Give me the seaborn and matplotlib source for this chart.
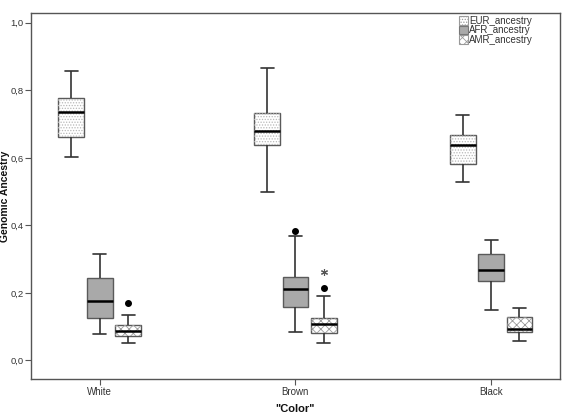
import numpy as np
import pandas as pd
import matplotlib
matplotlib.use("Agg")
import matplotlib.pyplot as plt
import seaborn as sns
from matplotlib.patches import PathPatch, Patch

# ---------------- data ----------------
groups = ["White", "Brown", "Black"]
series = ["EUR_ancestry", "AFR_ancestry", "AMR_ancestry"]
# five-number summaries per group: [whisker_low, q1, median, q3, whisker_high]
eur_summary = [[0.602, 0.661, 0.735, 0.776, 0.857],
               [0.498, 0.637, 0.679, 0.733, 0.867],
               [0.529, 0.582, 0.637, 0.668, 0.726]]
afr_summary = [[0.077, 0.127, 0.177, 0.243, 0.316],
               [0.083, 0.159, 0.212, 0.246, 0.370],
               [0.148, 0.234, 0.268, 0.314, 0.356]]
amr_summary = [[0.053, 0.072, 0.087, 0.104, 0.134],
               [0.052, 0.081, 0.108, 0.126, 0.192],
               [0.059, 0.083, 0.094, 0.130, 0.154]]
# outliers (circles)
eur_outliers = [[], [], []]
afr_outliers = [[], [0.384], []]
amr_outliers = [[0.170], [0.216], []]
# extreme values (asterisk)
eur_extremes = [[], [], []]
afr_extremes = [[], [], []]
amr_extremes = [[], [0.263], []]
y_ticks = [0.0, 0.2, 0.4, 0.6, 0.8, 1.0]
y_tick_labels = ["0,0", "0,2", "0,4", "0,6", "0,8", "1,0"]

summaries = {"EUR_ancestry": eur_summary, "AFR_ancestry": afr_summary, "AMR_ancestry": amr_summary}
outliers = {"EUR_ancestry": eur_outliers, "AFR_ancestry": afr_outliers, "AMR_ancestry": amr_outliers}
extremes = {"EUR_ancestry": eur_extremes, "AFR_ancestry": afr_extremes, "AMR_ancestry": amr_extremes}

# table for seaborn: each summary value repeated so that the box statistics equal the summary
rows = []
for s in series:
    for gi, g in enumerate(groups):
        vals = list(np.repeat(summaries[s][gi], 10)) + list(outliers[s][gi])
        for v in vals:
            rows.append({"Color": g, "series": s, "value": v})
df = pd.DataFrame(rows)

# ---------------- style ----------------
sns.set_theme(style="white")
plt.rcParams['font.family'] = ['Liberation Sans', 'DejaVu Sans']
plt.rcParams['hatch.linewidth'] = 0.6

fig = plt.figure(figsize=(5.63, 4.13), dpi=100)
ax = fig.add_axes([0.0545, 0.0823, 0.9405, 0.887])

sns.boxplot(data=df, x="Color", y="value", hue="series", order=groups, hue_order=series,
            palette=["white", "#a9a9a9", "white"], width=0.435, gap=0.09, whis=1.5,
            linecolor="#5a5a5a", linewidth=1.0,
            flierprops=dict(marker="o", markerfacecolor="black", markeredgecolor="black", markersize=4),
            medianprops=dict(color="black", linewidth=1.8),
            whiskerprops=dict(color="#333333", linewidth=1.2),
            capprops=dict(color="#333333", linewidth=1.2),
            legend=False, ax=ax)

hatches = {"EUR_ancestry": ("......", "#b8b8b8"),
           "AFR_ancestry": (None, None),
           "AMR_ancestry": ("xxxx", "#999999")}

box_centers = {}
for p in list(ax.patches):
    if not isinstance(p, PathPatch):
        continue
    verts = p.get_path().vertices
    cx = (verts[:, 0].min() + verts[:, 0].max()) / 2
    gi = int(round(cx))
    off = cx - gi
    s = series[0] if off < -0.07 else (series[2] if off > 0.07 else series[1])
    box_centers[(s, gi)] = cx
    h, hc = hatches[s]
    if h:
        ov = PathPatch(p.get_path(), facecolor="none", edgecolor=hc, lw=0, hatch=h,
                       transform=p.get_transform(), zorder=p.get_zorder() + 0.05)
        ax.add_patch(ov)

for s in series:
    for gi in range(len(groups)):
        ext = extremes[s][gi]
        if ext:
            cx = box_centers[(s, gi)]
            ax.plot([cx] * len(ext), ext, linestyle="none", marker=(6, 2, 0),
                    markersize=5, markeredgewidth=0.8, color="#555555", zorder=3)

ax.set_ylim(-0.055, 1.03)
ax.set_xlim(-0.353, 2.353)
ax.set_yticks(y_ticks, y_tick_labels)
for sp in ax.spines.values():
    sp.set_visible(True)
    sp.set_color("#555555")
    sp.set_linewidth(1.0)
ax.tick_params(direction="out", length=4, width=0.8, color="#555555", labelsize=7,
               labelcolor="#333333", left=True, bottom=True, pad=1.5)
ax.tick_params(axis="y", labelsize=6.8, pad=1.2)
ax.set_xlabel('"Color"', fontsize=8, fontweight="bold", labelpad=5, color="#111111")
ax.set_ylabel("Genomic Ancestry", fontsize=7.5, fontweight="bold", color="#111111")
ax.yaxis.set_label_coords(-0.040, 0.5)

handles = [Patch(facecolor="white", edgecolor="#9a9a9a", hatch="......", linewidth=0.8),
           Patch(facecolor="#a9a9a9", edgecolor="#777777", linewidth=0.8),
           Patch(facecolor="white", edgecolor="#999999", hatch="xxxx", linewidth=0.8)]
ax.legend(handles, series, loc="upper right", bbox_to_anchor=(0.961, 1.01), frameon=False,
          fontsize=7, labelspacing=-0.05, handlelength=0.9, handleheight=0.9,
          handletextpad=0.15, borderpad=0.2, labelcolor="#333333")

fig.savefig("out.png", dpi=100)
